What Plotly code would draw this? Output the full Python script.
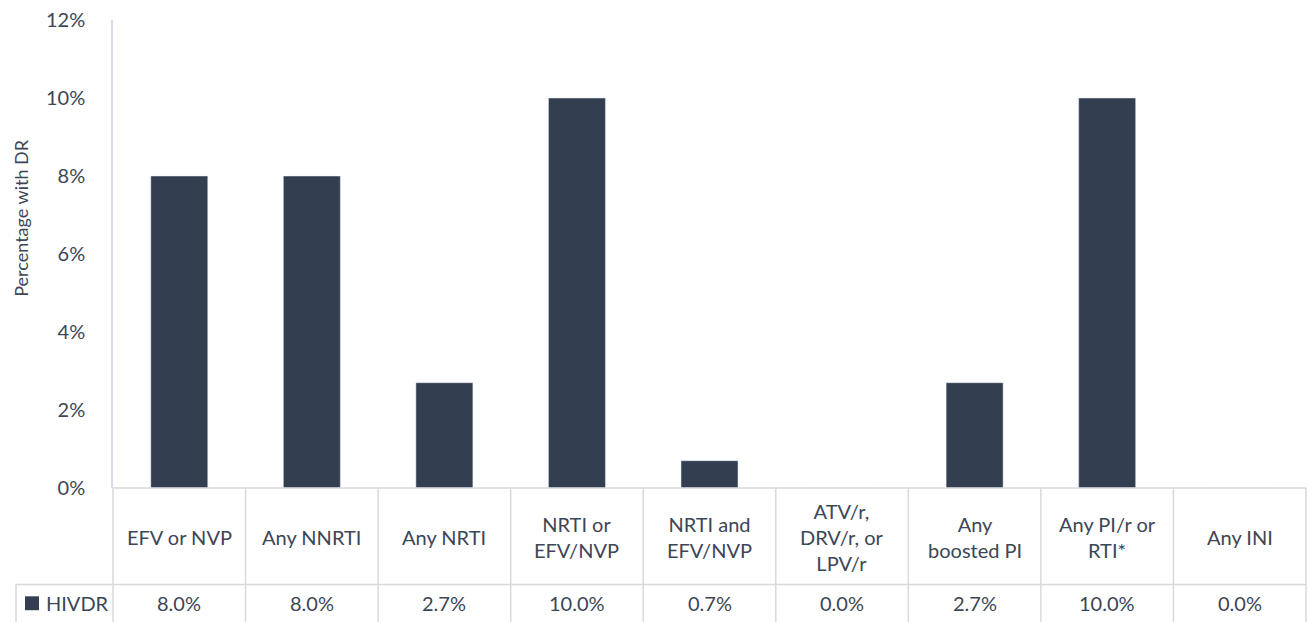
import plotly.graph_objects as go

categories = ["EFV or NVP", "Any NNRTI", "Any NRTI", "NRTI or<br>EFV/NVP", "NRTI and<br>EFV/NVP",
              "ATV/r,<br>DRV/r, or<br>LPV/r", "Any<br>boosted PI", "Any PI/r or<br>RTI*", "Any INI"]
hivdr = [0.080, 0.080, 0.027, 0.100, 0.007, 0.000, 0.027, 0.100, 0.000]
series_name = "HIVDR"
y_ticks = [0, 0.02, 0.04, 0.06, 0.08, 0.10, 0.12]

BAR = "#333F50"
TXT = "#3C4656"
GRID = "#D9D9D9"
FONT = "Lato"
FS = 20

W, H = 1313, 622
L, R, T, B = 113, 7, 17, 134
pw, ph = W - L - R, H - T - B

def px_y(y):
    return (H - B - y) / ph

def px_x(x):
    return (x - L) / pw

n = len(categories)
x_idx = list(range(n))

fig = go.Figure(go.Bar(x=x_idx, y=hivdr, marker_color=BAR, width=0.43, name=series_name,
                       showlegend=False))

shapes = []
# data table grid
row1 = px_y(585)
bottom = px_y(640)
shapes.append(dict(type="line", xref="paper", yref="paper", x0=0, x1=1, y0=0, y1=0,
                   line=dict(color=GRID, width=1.5)))
shapes.append(dict(type="line", xref="paper", yref="paper", x0=px_x(16), x1=1, y0=row1, y1=row1,
                   line=dict(color=GRID, width=1.5)))
for i in range(n + 1):
    shapes.append(dict(type="line", xref="paper", yref="paper", x0=i / n, x1=i / n,
                       y0=0, y1=bottom, line=dict(color=GRID, width=1.5)))
shapes.append(dict(type="line", xref="paper", yref="paper", x0=px_x(16), x1=px_x(16),
                   y0=row1, y1=bottom, line=dict(color=GRID, width=1.5)))
# legend key square
shapes.append(dict(type="rect", xref="paper", yref="paper", x0=px_x(25), x1=px_x(39),
                   y0=px_y(611), y1=px_y(597), fillcolor=BAR, line=dict(width=0)))

annotations = []
for i, (c, v) in enumerate(zip(categories, hivdr)):
    xc = (i + 0.5) / n
    annotations.append(dict(x=xc, y=px_y(537), xref="paper", yref="paper", text=c,
                            showarrow=False, font=dict(family=FONT, size=FS, color=TXT),
                            xanchor="center", yanchor="middle"))
    annotations.append(dict(x=xc, y=px_y(604), xref="paper", yref="paper", text=f"{v*100:.1f}%",
                            showarrow=False, font=dict(family=FONT, size=FS, color=TXT),
                            xanchor="center", yanchor="middle"))
annotations.append(dict(x=px_x(44), y=px_y(604), xref="paper", yref="paper", text=series_name,
                        showarrow=False, font=dict(family=FONT, size=FS, color=TXT),
                        xanchor="left", yanchor="middle"))
annotations.append(dict(x=px_x(21), y=px_y(217), xref="paper", yref="paper", text="Percentage with DR",
                        showarrow=False, textangle=-90, font=dict(family=FONT, size=18, color=TXT),
                        xanchor="center", yanchor="middle"))

fig.update_layout(
    width=W, height=H,
    margin=dict(l=L, r=R, t=T, b=B),
    paper_bgcolor="white", plot_bgcolor="white",
    font=dict(family=FONT, size=FS, color=TXT),
    shapes=shapes, annotations=annotations,
    xaxis=dict(range=[-0.5, n - 0.5], showticklabels=False, showgrid=False, zeroline=False,
               showline=False, fixedrange=True),
    yaxis=dict(range=[0, 0.12], tickvals=y_ticks, tickformat=".0%", showgrid=False,
               zeroline=False, showline=True, linecolor="#D6DCE4", linewidth=1.5,
               ticks="", ticklabelstandoff=22, fixedrange=True),
)

fig.write_html("out.html")
